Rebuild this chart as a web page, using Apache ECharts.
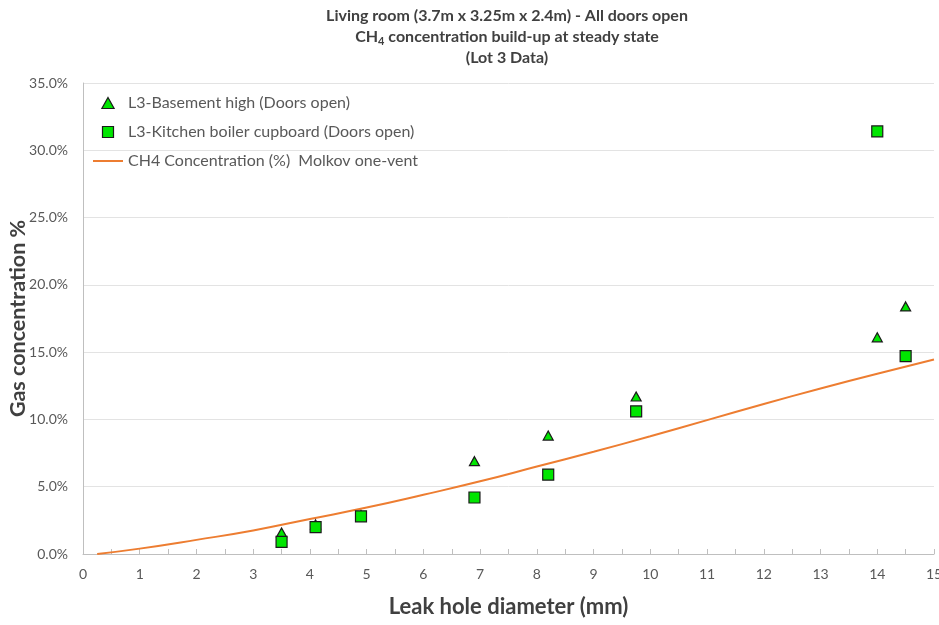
<!DOCTYPE html>
<html>
<head>
<meta charset="utf-8">
<script src="https://cdn.jsdelivr.net/npm/echarts@6/dist/echarts.min.js"></script>
<style>
  html, body { margin: 0; padding: 0; background: #ffffff; }
  #chart { width: 939px; height: 625px; }
</style>
</head>
<body>
<div id="chart"></div>
<script>
// Leak hole diameters (mm) for the measured points
const basementDiameters = [3.5, 4.1, 4.9, 6.9, 8.2, 9.75, 14, 14.5];
// L3 basement high sensor, CH4 concentration (%)
const basementValues = [1.6, 2.2, 2.9, 6.9, 8.8, 11.7, 16.1, 18.4];

const kitchenDiameters = [3.5, 4.1, 4.9, 6.9, 8.2, 9.75, 14, 14.5];
// L3 kitchen boiler cupboard sensor, CH4 concentration (%)
const kitchenValues = [0.9, 2.0, 2.8, 4.2, 5.9, 10.6, 31.4, 14.7];

// Molkov one-vent model curve
const modelDiameters = [0.25, 1, 2, 3, 4, 5, 6, 7, 8, 9, 10, 11, 12, 13, 14, 15];
const modelValues = [0, 0.4, 1.05, 1.75, 2.6, 3.45, 4.4, 5.4, 6.5, 7.6, 8.75, 9.95, 11.15, 12.3, 13.4, 14.45];

const seriesNames = [
  'L3-Basement high (Doors open)',
  'L3-Kitchen boiler cupboard (Doors open)',
  'CH4 Concentration (%)  Molkov one-vent'
];

const pairs = (xs, ys) => xs.map((x, i) => [x, ys[i]]);

const FONT = 'Lato, "Open Sans", sans-serif';
const GREEN = '#00e600';
const ORANGE = '#ed7d31';
const EDGE = '#1a1a1a';

const chart = echarts.init(document.getElementById('chart'), null, { renderer: 'canvas' });

chart.setOption({
  backgroundColor: '#ffffff',
  animation: false,
  title: {
    text: '{t|Living room (3.7m x 3.25m x 2.4m) - All doors open}\n{t|CH}{s|4}{t| concentration build-up at steady state}\n{t|(Lot 3 Data)}',
    left: 502,
    top: 0,
    textAlign: 'center',
    textStyle: {
      rich: {
        t: { fontFamily: FONT, fontWeight: 'bold', fontSize: 16, color: '#404040', lineHeight: 21 },
        s: { fontFamily: FONT, fontWeight: 'bold', fontSize: 11, color: '#404040', lineHeight: 21, verticalAlign: 'bottom', padding: [8, 0, 0, 0] }
      }
    }
  },
  legend: {
    orient: 'vertical',
    left: 88,
    top: 90,
    itemGap: 13,
    itemWidth: 30,
    itemHeight: 11,
    symbolKeepAspect: true,
    textStyle: { fontFamily: FONT, fontSize: 16, color: '#595959' },
    data: [
      {
        name: seriesNames[0],
        icon: 'path://M5,0 L10,9 L0,9 Z',
        itemStyle: { color: GREEN, borderColor: EDGE, borderWidth: 1.2 }
      },
      {
        name: seriesNames[1],
        icon: 'path://M0,0 L10,0 L10,10 L0,10 Z',
        itemStyle: { color: GREEN, borderColor: EDGE, borderWidth: 1.2 }
      },
      {
        name: seriesNames[2],
        icon: 'path://M0,0 L30,0 L30,2 L0,2 Z',
        itemStyle: { color: ORANGE, borderWidth: 0 }
      }
    ]
  },
  grid: { left: 83, right: 5, top: 83, bottom: 71, containLabel: false, outerBoundsMode: 'none' },
  xAxis: {
    type: 'value',
    min: 0,
    max: 15,
    interval: 0.5,
    name: 'Leak hole diameter (mm)',
    nameLocation: 'middle',
    nameGap: 42,
    nameMoveOverlap: false,
    nameTextStyle: { fontFamily: FONT, fontWeight: 'bold', fontSize: 22, color: '#404040' },
    axisLine: { show: true, lineStyle: { color: '#bfbfbf', width: 1 } },
    axisTick: { show: true, inside: true, length: 5, lineStyle: { color: '#bfbfbf' } },
    axisLabel: {
      margin: 13,
      fontFamily: FONT,
      fontSize: 14,
      color: '#595959',
      formatter: v => (Math.abs(v - Math.round(v)) < 1e-6 ? String(Math.round(v)) : '')
    },
    splitLine: { show: false }
  },
  yAxis: {
    type: 'value',
    min: 0,
    max: 35,
    interval: 5,
    name: 'Gas concentration %',
    nameLocation: 'middle',
    nameGap: 54,
    nameMoveOverlap: false,
    nameTextStyle: { fontFamily: FONT, fontWeight: 'bold', fontSize: 21.5, color: '#404040' },
    axisLine: { show: true, lineStyle: { color: '#bfbfbf', width: 1 } },
    axisTick: { show: false },
    axisLabel: {
      margin: 15,
      fontFamily: FONT,
      fontSize: 14,
      color: '#595959',
      formatter: v => v.toFixed(1) + '%'
    },
    splitLine: { show: true, lineStyle: { color: '#e3e3e3', width: 1 } }
  },
  series: [
    {
      name: seriesNames[2],
      type: 'line',
      data: pairs(modelDiameters, modelValues),
      smooth: true,
      symbol: 'none',
      lineStyle: { color: ORANGE, width: 2 },
      itemStyle: { color: ORANGE },
      z: 2
    },
    {
      name: seriesNames[0],
      type: 'scatter',
      data: pairs(basementDiameters, basementValues),
      symbol: 'triangle',
      symbolSize: [10, 9],
      itemStyle: { color: GREEN, borderColor: EDGE, borderWidth: 1.2, opacity: 1 },
      z: 3
    },
    {
      name: seriesNames[1],
      type: 'scatter',
      data: pairs(kitchenDiameters, kitchenValues),
      symbol: 'rect',
      symbolSize: 11,
      itemStyle: { color: GREEN, borderColor: EDGE, borderWidth: 1.2, opacity: 1 },
      z: 4
    }
  ]
});
</script>
</body>
</html>
